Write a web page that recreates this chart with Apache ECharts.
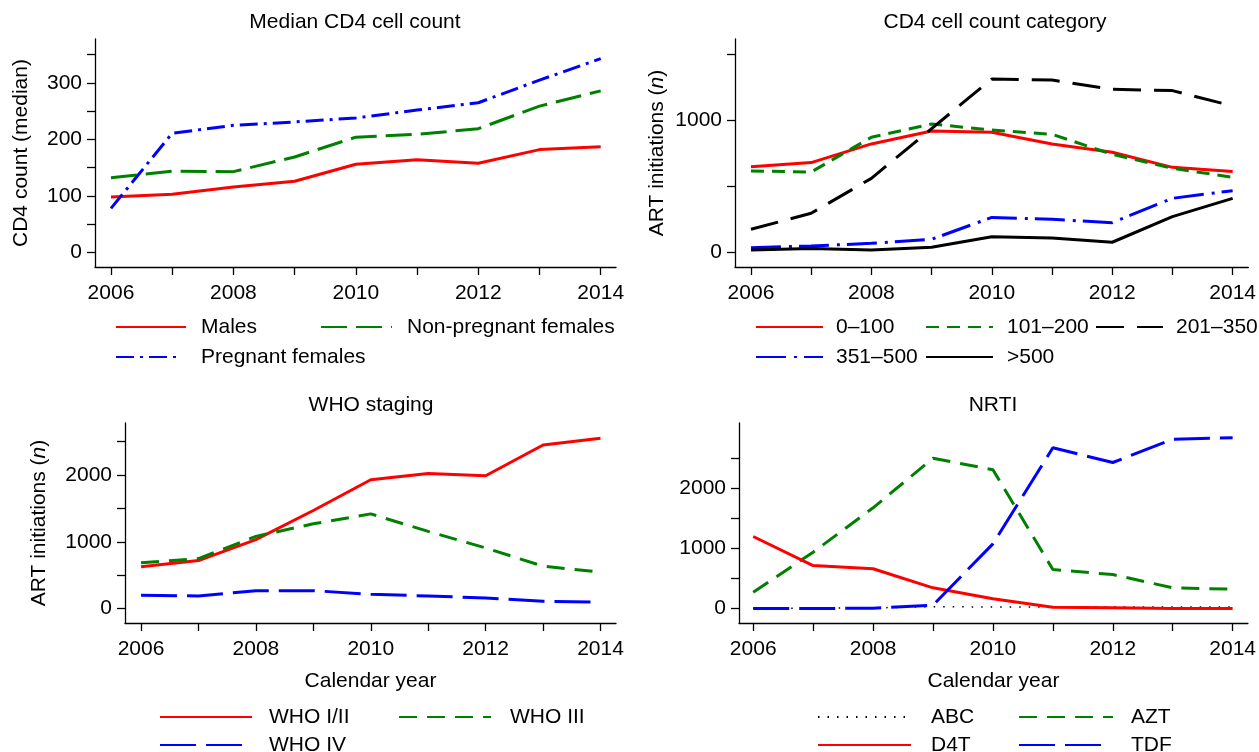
<!DOCTYPE html>
<html>
<head>
<meta charset="utf-8">
<script src="https://cdn.jsdelivr.net/npm/echarts@6/dist/echarts.min.js"></script>
<style>
html,body{margin:0;padding:0;background:#fff;}
#chart{width:1259px;height:752px;}
</style>
</head>
<body>
<div id="chart"></div>
<script>
// ---------- DATA ----------
const years = [2006, 2007, 2008, 2009, 2010, 2011, 2012, 2013, 2014];
const xTickYears = [2006, 2007, 2008, 2009, 2010, 2011, 2012, 2013, 2014];
const xLabelYears = [2006, 2008, 2010, 2012, 2014];

// Panel 1: Median CD4 cell count
const males = [98, 103, 116, 126, 156, 164, 158, 182, 187];
const nonPregnantFemales = [132, 144, 143, 169, 204, 209, 219, 259, 286];
const pregnantFemales = [78, 211, 225, 231, 238, 252, 265, 305, 343];
const p1Ticks = [0, 50, 100, 150, 200, 250, 300, 350];
const p1Labels = [0, 100, 200, 300];

// Panel 2: CD4 cell count category
const cd4_0_100 = [647, 678, 819, 917, 907, 819, 756, 642, 610];
const cd4_101_200 = [615, 607, 869, 970, 924, 892, 741, 635, 567];
const cd4_201_350 = [174, 295, 559, 935, 1310, 1302, 1232, 1222, 1106];
const cd4_351_500 = [35, 48, 68, 98, 264, 249, 224, 408, 466];
const cd4_gt500 = [18, 28, 18, 38, 118, 108, 76, 270, 408];
const p2Ticks = [0, 500, 1000, 1500];
const p2Labels = [0, 1000];

// Panel 3: WHO staging
const whoI_II = [625, 719, 1032, 1469, 1930, 2025, 1990, 2452, 2551];
const whoIII = [685, 749, 1081, 1270, 1419, 1156, 908, 635, 545];
const whoIV = [198, 188, 268, 268, 213, 188, 158, 109, 94];
const p3Ticks = [0, 500, 1000, 1500, 2000, 2500];
const p3Labels = [0, 1000, 2000];

// Panel 4: NRTI
const abc = [5, 5, 10, 30, 25, 25, 25, 25, 25];
const azt = [271, 937, 1675, 2500, 2308, 648, 565, 344, 321];
const d4t = [1198, 715, 661, 344, 161, 21, 11, 0, 0];
const tdf = [0, 0, 5, 56, 1076, 2673, 2429, 2817, 2840];
const p4Ticks = [0, 500, 1000, 1500, 2000, 2500];
const p4Labels = [0, 1000, 2000];

// ---------- STYLE / LAYOUT ----------
const FONT = "'Liberation Sans', Arial, Helvetica, sans-serif";
const FS = 21;
const RED = '#ff0000', GREEN = '#008000', BLUE = '#0000ff', BLACK = '#000000';

const grids = [
  {left: 95, top: 39, width: 521, height: 228},
  {left: 735, top: 39, width: 515, height: 228},
  {left: 125, top: 423, width: 491, height: 200},
  {left: 739, top: 423, width: 512, height: 200}
];
const xRanges = [[2005.739, 2014.25], [2005.735, 2014.26], [2005.721, 2014.27], [2005.763, 2014.255]];
const yRanges = [[-25.8, 377.8], [-111, 1612], [-217, 2781], [-241, 3086]];
const yTickSets = [p1Ticks, p2Ticks, p3Ticks, p4Ticks];
const yLabelSets = [p1Labels, p2Labels, p3Labels, p4Labels];
const yNames = ['CD4 count (median)', 'ART initiations ({i|n})', 'ART initiations ({i|n})', ''];
const yNameGaps = [63, 67, 75, 0];
const xNames = ['', '', 'Calendar year', 'Calendar year'];

const axisLineStyle = {color: '#000', width: 1.3};

const xAxes = grids.map((g, i) => ({
  type: 'value', gridIndex: i,
  min: xRanges[i][0], max: xRanges[i][1],
  axisLine: {show: true, onZero: false, lineStyle: axisLineStyle},
  axisTick: {show: true, length: 8, inside: false, customValues: xTickYears, lineStyle: axisLineStyle},
  axisLabel: {customValues: xLabelYears, margin: 16, fontSize: FS, color: '#000', fontFamily: FONT, formatter: v => String(v)},
  splitLine: {show: false},
  name: xNames[i], nameLocation: 'middle', nameGap: 48,
  nameTextStyle: {fontSize: FS, color: '#000', fontFamily: FONT}
}));

const yAxes = grids.map((g, i) => ({
  type: 'value', gridIndex: i,
  min: yRanges[i][0], max: yRanges[i][1],
  axisLine: {show: true, onZero: false, lineStyle: axisLineStyle},
  axisTick: {show: true, length: 8, inside: false, customValues: yTickSets[i], lineStyle: axisLineStyle},
  axisLabel: {customValues: yLabelSets[i], margin: 13, fontSize: FS, color: '#000', fontFamily: FONT, formatter: v => String(v)},
  splitLine: {show: false},
  name: yNames[i], nameLocation: 'middle', nameGap: yNameGaps[i], nameRotate: 90,
  nameTextStyle: {fontSize: FS, color: '#000', fontFamily: FONT,
    rich: {i: {fontStyle: 'italic', fontSize: FS, color: '#000', fontFamily: FONT}}}
}));

const toPairs = arr => years.map((y, k) => [y, arr[k]]);
function line(name, arr, idx, color, type, width) {
  return {
    name, type: 'line', xAxisIndex: idx, yAxisIndex: idx,
    data: toPairs(arr), symbol: 'none', animation: false, silent: true,
    lineStyle: {color, width: width || 3, type, cap: 'butt'},
    itemStyle: {color}, z: 3
  };
}

const series = [
  line('Males', males, 0, RED, 'solid'),
  line('Non-pregnant females', nonPregnantFemales, 0, GREEN, [26, 9]),
  line('Pregnant females', pregnantFemales, 0, BLUE, [18, 6, 3, 6]),

  line('0–100', cd4_0_100, 1, RED, 'solid'),
  line('101–200', cd4_101_200, 1, GREEN, [13, 8]),
  line('201–350', cd4_201_350, 1, BLACK, [28, 13]),
  line('351–500', cd4_351_500, 1, BLUE, [30, 8, 3, 7]),
  line('>500', cd4_gt500, 1, BLACK, 'solid'),

  line('WHO I/II', whoI_II, 2, RED, 'solid'),
  line('WHO III', whoIII, 2, GREEN, [18, 10]),
  line('WHO IV', whoIV, 2, BLUE, [36, 10]),

  line('ABC', abc, 3, BLACK, [1.5, 8], 1.5),
  line('AZT', azt, 3, GREEN, [18, 10]),
  line('D4T', d4t, 3, RED, 'solid'),
  line('TDF', tdf, 3, BLUE, [36, 10])
];

// legend item placement: [name, left, centerY, sampleWidth, textGap]
const legendItems = [
  ['Males', 115, 327, 70, 10],
  ['Non-pregnant females', 320, 327, 71, 10],
  ['Pregnant females', 115, 357, 65, 15],
  ['0–100', 755, 327, 67, 8],
  ['101–200', 925, 327, 67, 9],
  ['201–350', 1095, 327, 67, 8],
  ['351–500', 755, 357, 67, 8],
  ['>500', 925, 357, 67, 9],
  ['WHO I/II', 159, 717, 92, 12],
  ['WHO III', 398, 717, 92, 14],
  ['WHO IV', 159, 745, 86, 18],
  ['ABC', 817, 717, 93, 15],
  ['AZT', 1018, 717, 94, 13],
  ['D4T', 817, 745, 93, 15],
  ['TDF', 1018, 745, 90, 17]
];
const legends = legendItems.map(it => ({
  data: [it[0]], left: it[1], top: it[2] - 12,
  itemWidth: it[3], itemHeight: 14, itemGap: 0, padding: 0,
  selectedMode: false, orient: 'horizontal',
  itemStyle: {opacity: 0, color: 'rgba(0,0,0,0)', borderColor: 'rgba(0,0,0,0)', borderWidth: 0},
  textStyle: {fontSize: FS, color: '#000', fontFamily: FONT, padding: [0, 0, 0, it[4]], lineHeight: 24}
}));

const titlesDef = [
  ['Median CD4 cell count', 355, 12],
  ['CD4 cell count category', 995, 12],
  ['WHO staging', 371, 395],
  ['NRTI', 993, 395]
];
const titles = titlesDef.map(t => ({
  text: t[0], left: t[1], top: t[2], textAlign: 'center', padding: 0,
  textStyle: {fontSize: FS, fontWeight: 'normal', color: '#000', fontFamily: FONT}
}));

const chart = echarts.init(document.getElementById('chart'), null, {renderer: 'canvas'});
chart.setOption({
  backgroundColor: '#fff',
  animation: false,
  textStyle: {fontFamily: FONT},
  title: titles,
  grid: grids,
  xAxis: xAxes,
  yAxis: yAxes,
  legend: legends,
  series: series
});
</script>
</body>
</html>
